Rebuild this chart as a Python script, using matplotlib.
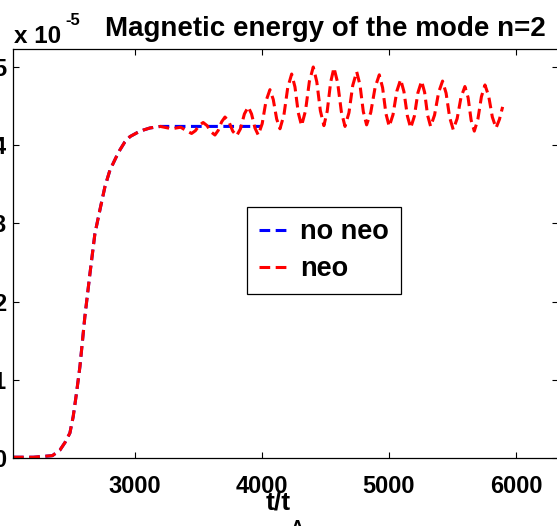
import matplotlib
matplotlib.use("Agg")
import matplotlib.pyplot as plt

plt.rcParams['font.family'] = ['Liberation Sans', 'DejaVu Sans']
plt.rcParams['font.weight'] = 'bold'

# growth phase, shared by both runs (energy in units of 1e-5)
t_rise = [2040, 2200, 2350, 2409, 2450, 2488, 2514, 2540, 2567, 2606, 2646,
          2685, 2724, 2764, 2803, 2850, 2882, 2920, 2961, 3040, 3118, 3200]
e_rise = [0.01, 0.01, 0.03, 0.10, 0.20, 0.32, 0.53, 0.83, 1.17, 1.81, 2.36,
          2.87, 3.17, 3.47, 3.68, 3.84, 3.94, 4.04, 4.11, 4.18, 4.22, 4.24]

# no neo: saturated plateau
t_noneo = t_rise + [3300, 3500, 3800, 4000]
e_noneo = e_rise + [4.24, 4.24, 4.24, 4.24]

# neo: plateau then oscillations
t_osc = [3290, 3360, 3400, 3446, 3476, 3507, 3537, 3568, 3599, 3630, 3656, 3683,
         3709, 3740, 3770, 3801, 3831, 3862, 3892, 3918, 3945, 3971, 4002, 4032,
         4063, 4089, 4116, 4142, 4173, 4203, 4234, 4260, 4286, 4312, 4343, 4373,
         4404, 4432, 4460, 4488, 4514, 4541, 4567, 4596, 4625, 4654, 4685, 4715,
         4746, 4772, 4798, 4824, 4857, 4891, 4924, 4950, 4976, 5002, 5032, 5062,
         5092, 5118, 5145, 5171, 5200, 5228, 5257, 5281, 5304, 5328, 5359, 5391,
         5422, 5450, 5478, 5506, 5537, 5567, 5598, 5623, 5647, 5672, 5700, 5728,
         5756, 5785, 5814, 5843, 5870, 5895]
e_osc = [4.21, 4.23, 4.19, 4.15, 4.185, 4.255, 4.29, 4.25, 4.17, 4.13, 4.19, 4.30,
         4.36, 4.30, 4.18, 4.12, 4.21, 4.40, 4.49, 4.40, 4.22, 4.13, 4.275, 4.565,
         4.71, 4.585, 4.335, 4.21, 4.385, 4.735, 4.91, 4.745, 4.415, 4.25, 4.44, 4.81,
         5.00, 4.81, 4.44, 4.25, 4.435, 4.805, 4.99, 4.80, 4.43, 4.24, 4.415, 4.765,
         4.94, 4.77, 4.43, 4.26, 4.42, 4.74, 4.90, 4.735, 4.405, 4.24, 4.39, 4.69,
         4.84, 4.685, 4.375, 4.22, 4.37, 4.67, 4.82, 4.675, 4.385, 4.24, 4.385, 4.675,
         4.82, 4.665, 4.355, 4.20, 4.34, 4.61, 4.75, 4.61, 4.32, 4.18, 4.33, 4.62,
         4.77, 4.63, 4.36, 4.22, 4.33, 4.49]
t_neo = t_rise + t_osc
e_neo = e_rise + e_osc

xticks = [3000, 4000, 5000, 6000]
yticks = [0, 1, 2, 3, 4, 5]

W, H = 557, 526
fig = plt.figure(figsize=(W / 100, H / 100), dpi=100)
ax = fig.add_axes([13 / W, (H - 458) / H, (558 - 13) / W, (458 - 49) / H])

dash = (0, (3.5, 1.8))
ax.plot(t_noneo, e_noneo, color='blue', lw=2.2, linestyle=dash, label='no neo')
ax.plot(t_neo, e_neo, color='red', lw=2.2, linestyle=dash, label='neo')

ax.set_xlim(2040, 6331)
ax.set_ylim(0, 5.23)
ax.set_xticks(xticks)
ax.set_yticks(yticks)
ax.tick_params(direction='in', length=4, width=0.8, top=True, right=True,
               labelsize=17)
ax.tick_params(axis='x', pad=12)
ax.tick_params(axis='y', pad=5)
for s in ax.spines.values():
    s.set_linewidth(0.9)

# x label t/t_A, subscript partly below the bottom edge as in the original
fig.text(266 / W, 1 - 510 / H, 't/t', ha='left', va='baseline', fontsize=19,
         fontweight='bold')
fig.text(291 / W, 1 - 533 / H, 'A', ha='left', va='baseline', fontsize=13,
         fontweight='bold')

fig.text(325 / W, 1 - 36 / H, 'Magnetic energy of the mode n=2',
         ha='center', va='baseline', fontsize=20, fontweight='bold')
fig.text(14 / W, 1 - 43 / H, 'x 10', ha='left', va='baseline', fontsize=17.5,
         fontweight='bold')
fig.text(65 / W, 1 - 25 / H, '-5', ha='left', va='baseline', fontsize=12,
         fontweight='bold')

leg = ax.legend(loc='upper left', bbox_to_anchor=(247 / W, 1 - 207 / H),
                bbox_transform=fig.transFigure, borderaxespad=0,
                fancybox=False, framealpha=1, edgecolor='black',
                prop={'size': 19.5, 'weight': 'bold'},
                handlelength=1.15, handletextpad=0.37, labelspacing=0.4,
                borderpad=0.45)
leg.get_frame().set_linewidth(0.9)

fig.savefig('out.png', dpi=100)
